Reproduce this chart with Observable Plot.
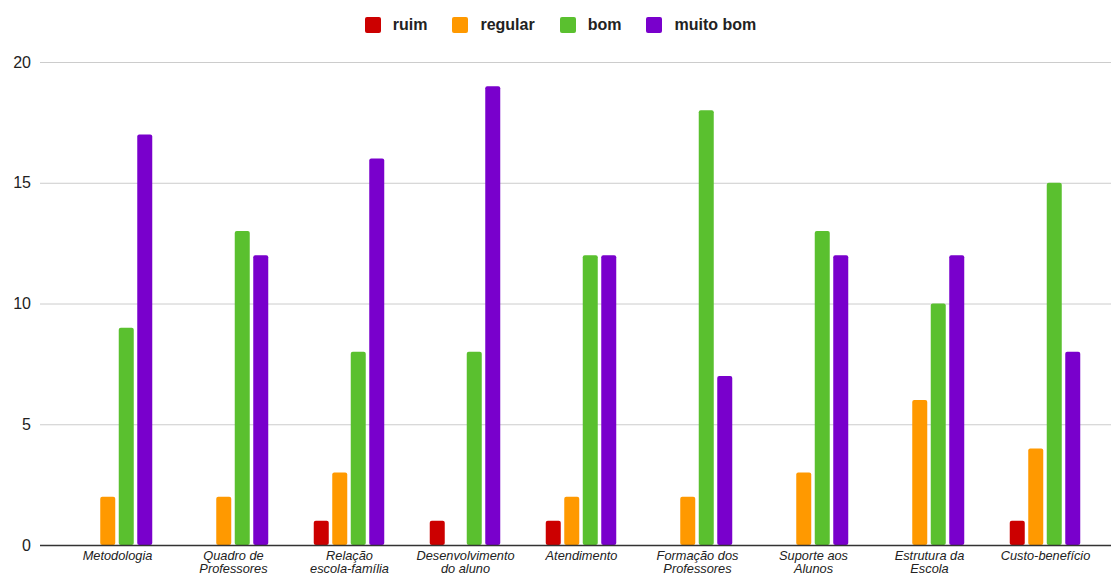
<!DOCTYPE html>
<html>
<head>
<meta charset="utf-8">
<script src="https://cdn.jsdelivr.net/npm/d3@7"></script>
<script src="https://cdn.jsdelivr.net/npm/@observablehq/plot@0.6"></script>
<style>
  html, body { margin: 0; padding: 0; background: #fff; }
  body { width: 1111px; height: 575px; overflow: hidden; font-family: "Liberation Sans", Arial, sans-serif; }
  #legend { height: 45px; display: flex; justify-content: center; align-items: center; padding-left: 10px; box-sizing: border-box; padding-top: 4px; }
  .item { display: flex; align-items: center; margin: 0 12.5px; font-weight: bold; font-size: 16px; color: #222; }
  .sw { width: 16px; height: 16px; border-radius: 2px; margin-right: 12px; }
  svg { display: block; }
</style>
</head>
<body>
<div id="legend"></div>
<div id="chart"></div>
<script>
// Avaliação da escola: número de respostas por aspecto
const categories = ["Metodologia", "Quadro de Professores", "Relação escola-família", "Desenvolvimento do aluno", "Atendimento", "Formação dos Professores", "Suporte aos Alunos", "Estrutura da Escola", "Custo-benefício"];
const tickLabels = ["Metodologia", "Quadro de\nProfessores", "Relação\nescola-família", "Desenvolvimento\ndo aluno", "Atendimento", "Formação dos\nProfessores", "Suporte aos\nAlunos", "Estrutura da\nEscola", "Custo-benefício"];
const series = ["ruim", "regular", "bom", "muito bom"];
const colors = ["#cc0000", "#ff9900", "#5ac02f", "#7900cc"];
const ruim = [0, 0, 1, 1, 1, 0, 0, 0, 1];
const regular = [2, 2, 3, 0, 2, 2, 3, 6, 4];
const bom = [9, 13, 8, 8, 12, 18, 13, 10, 15];
const muitoBom = [17, 12, 16, 19, 12, 7, 12, 12, 8];
const yTicks = [0, 5, 10, 15, 20];

const values = [ruim, regular, bom, muitoBom];
const rows = series.flatMap((s, i) => categories.map((c, j) => ({category: c, series: s, value: values[i][j]})));

// legend
const legend = d3.select("#legend");
series.forEach((s, i) => {
  const it = legend.append("div").attr("class", "item");
  it.append("div").attr("class", "sw").style("background", colors[i]);
  it.append("span").text(s);
});

// each series sits in its own slot inside the category band
const pitch = 18.5, barW = 15, gap = (pitch - barW) / 2;
const barMarks = series.map((s, i) =>
  Plot.barY(rows.filter(d => d.series === s && d.value > 0), {
    x: "category",
    y: "value",
    fill: colors[i],
    insetLeft: i * pitch + gap,
    insetRight: (series.length - 1 - i) * pitch + gap,
    rx: 2
  })
);

const labelOf = new Map(categories.map((c, i) => [c, tickLabels[i]]));

const chart = Plot.plot({
  width: 1111,
  height: 530,
  marginLeft: 59.5,
  marginRight: 7.5,
  marginTop: 17,
  marginBottom: 30,
  style: {fontFamily: "'Liberation Sans', Arial, sans-serif", background: "#fff"},
  x: {type: "band", domain: categories, paddingInner: 0.362, paddingOuter: 0.181, axis: null},
  y: {domain: [0, 20], axis: null},
  marks: [
    Plot.ruleY(yTicks.filter(t => t > 0), {stroke: "#cccccc", strokeWidth: 1, insetLeft: -19.5, insetRight: -7.5}),
    ...barMarks,
    Plot.ruleY([0], {stroke: "#333333", strokeWidth: 1.3, insetLeft: -19.5, insetRight: -7.5}),
    Plot.axisY({ticks: yTicks, tickSize: 0, tickPadding: 29, fontSize: 16, color: "#222", label: null}),
    Plot.text(categories, {
      x: d => d,
      text: d => labelOf.get(d),
      frameAnchor: "bottom",
      lineAnchor: "top",
      dy: 5,
      fontSize: 12.8,
      fontStyle: "italic",
      lineHeight: 1.02,
      fill: "#222"
    })
  ]
});
document.getElementById("chart").append(chart);
</script>
</body>
</html>
